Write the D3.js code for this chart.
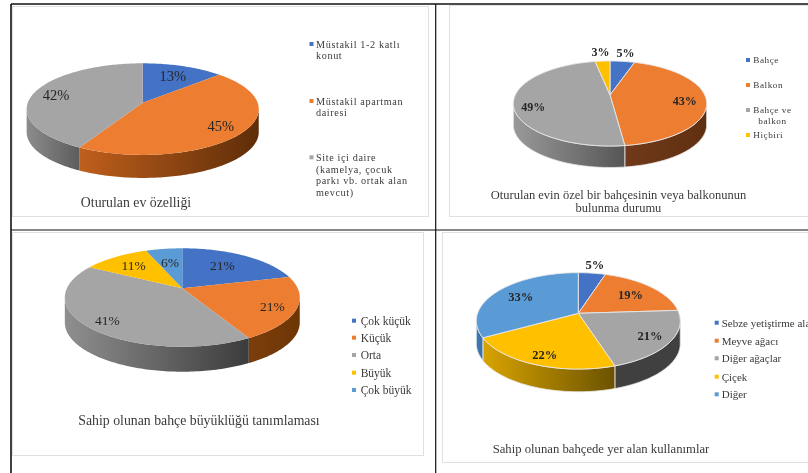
<!DOCTYPE html>
<html>
<head>
<meta charset="utf-8">
<style>
html, body{
  margin: 0;
  padding: 0;
  background-color: white;
  overflow: hidden;
}
svg{
  display: block;
}
text{
  font-family: "Liberation Serif", serif;
  fill: #3a3a3a;
}
.plot{
  filter: blur(0.45px);
}
.pct{
  fill: #262626;
}
.title{
  text-anchor: middle;
}
</style>
</head>
<body>
<script src="https://cdnjs.cloudflare.com/ajax/libs/d3/7.8.5/d3.min.js"></script>
<script>
  var WIDTH = 808;
  var HEIGHT = 473;

  // values
  var houseValues = [13, 45, 42];
  var houseLegend = [["Müstakil 1-2 katlı", "konut"], ["Müstakil apartman", "dairesi"], ["Site içi daire", "(kamelya, çocuk", "parkı vb. ortak alan", "mevcut)"]];

  var balconyValues = [5, 43, 49, 3];
  var balconyLegend = [["Bahçe"], ["Balkon"], ["Bahçe ve", "balkon"], ["Hiçbiri"]];

  var sizeValues = [21, 21, 41, 11, 6];
  var sizeLegend = [["Çok küçük"], ["Küçük"], ["Orta"], ["Büyük"], ["Çok büyük"]];

  var usageValues = [5, 19, 21, 22, 33];
  var usageLegend = [["Sebze yetiştirme alanı"], ["Meyve ağacı"], ["Diğer ağaçlar"], ["Çiçek"], ["Diğer"]];

  var COLORS = ["#4472c4", "#ed7d31", "#a5a5a5", "#ffc000", "#5b9bd5"];

  // the four panels: pie geometry, label placement and legend placement
  var panels = [
    {
      values: houseValues, legendLines: houseLegend,
      title: ["Oturulan ev özelliği"], titleX: 136, titleY: 207, titleSize: 13.8,
      frame: [12, 6, 428, 216],
      cx: 142.7, cy: 102.7, a: 114.9, b: 44.9, k: 0.14, depth: 23, edge: null,
      pctSize: 14.5, pctWeight: "normal",
      labelR: [0.72, 0.8, 0.8], labelDy: [0, 0, 1],
      side: [["#3a5fa6", "#2f4c86"], ["#bf5f1c", "#5e2d08"], ["#8c8c8c", "#5c5c5c"]],
      legendX: 311.5, legendTextX: 316, legendSize: 10.2, legendSpacing: 0.62,
      legendY: [44, 101, 157.3], lineStep: 11.8, indent: 0
    },
    {
      values: balconyValues, legendLines: balconyLegend,
      title: ["Oturulan evin özel bir bahçesinin veya balkonunun", "bulunma durumu"], titleX: 618.5, titleY: 199, titleSize: 12.5,
      frame: [449, 5, 830, 216],
      cx: 610, cy: 95, a: 94.7, b: 40.8, k: 0.2, depth: 21.5, edge: "#e8e8e8",
      pctSize: 12, pctWeight: "bold",
      labelR: [1.32, 0.78, 0.8, 1.35], labelDy: [0, 3, 7, 0],
      side: [["#33578f", "#33578f"], ["#70391a", "#5f3010"], ["#999999", "#565656"], ["#8c6a00", "#8c6a00"]],
      legendX: 748, legendTextX: 753.3, legendSize: 9.2, legendSpacing: 0.55,
      legendY: [60, 85, 110, 135], lineStep: 10.7, indent: 5
    },
    {
      values: sizeValues, legendLines: sizeLegend,
      title: ["Sahip olunan bahçe büyüklüğü tanımlaması"], titleX: 199, titleY: 425, titleSize: 13.8,
      frame: [12, 232, 423, 455],
      cx: 182.3, cy: 288.3, a: 115.4, b: 47.5, k: 0.187, depth: 25, edge: null,
      pctSize: 13.5, pctWeight: "normal",
      labelR: [0.62, 0.8, 0.82, 0.7, 0.63], labelDy: [-2, 2, 1, 0, 0],
      side: [["#2f4c86", "#2f4c86"], ["#7c3d0c", "#6e3605"], ["#8f8f8f", "#3c3c3c"], ["#8c6a00", "#8c6a00"], ["#3a6a96", "#3a6a96"]],
      legendX: 354, legendTextX: 360.7, legendSize: 11.5, legendSpacing: 0,
      legendY: [320.7, 337.7, 355, 372.7, 390], lineStep: 11.5, indent: 0
    },
    {
      values: usageValues, legendLines: usageLegend,
      title: ["Sahip olunan bahçede yer alan kullanımlar"], titleX: 601, titleY: 452.5, titleSize: 12.7,
      frame: [442, 232, 830, 462],
      cx: 578.3, cy: 313.3, a: 100.7, b: 47, k: 0.157, depth: 22.7, edge: "#e8e8e8",
      pctSize: 12.5, pctWeight: "bold",
      labelR: [1.26, 0.7, 0.8, 0.8, 0.7], labelDy: [0, 0, 0, 2, -1],
      side: [["#33578f", "#33578f"], ["#8a4a1a", "#8a4a1a"], ["#404040", "#404040"], ["#d9a400", "#6b5200"], ["#3f7ab5", "#3a70a8"]],
      legendX: 716.7, legendTextX: 721.7, legendSize: 11, legendSpacing: 0,
      legendY: [322.7, 340.7, 358.3, 376.7, 394.3], lineStep: 11, indent: 0
    }
  ];

  var svg = d3.select("body").append("svg")
    .attr("width", WIDTH)
    .attr("height", HEIGHT);

  var defs = svg.append("defs");

  drawFrames();
  panels.forEach(drawPanel);
  drawTableLines();

  function drawFrames(){
    svg.append("g").attr("class", "frames")
      .selectAll("rect")
      .data(panels)
      .enter()
      .append("rect")
        .attr("x", (d) => d.frame[0] + 0.5)
        .attr("y", (d) => d.frame[1] + 0.5)
        .attr("width", (d) => d.frame[2] - d.frame[0])
        .attr("height", (d) => d.frame[3] - d.frame[1])
        .attr("fill", "white")
        .attr("stroke", "#e0e0e0")
        .attr("stroke-width", 1);
  }

  function drawTableLines(){
    var lines = [[11, 4, WIDTH, 4, 1.6], [11, 4, 11, HEIGHT, 1.6], [435.7, 4, 435.7, HEIGHT, 1.2], [11, 230, WIDTH, 230, 1.2]];
    svg.append("g").attr("class", "table-lines")
      .selectAll("line")
      .data(lines)
      .enter()
      .append("line")
        .attr("x1", (d) => d[0])
        .attr("y1", (d) => d[1])
        .attr("x2", (d) => d[2])
        .attr("y2", (d) => d[3])
        .attr("stroke", "#111")
        .attr("stroke-width", (d) => d[4]);
  }

  function drawPanel(p, idx){
    var plot = svg.append("g").attr("class", "plot");

    // tilted disc with a little perspective, far side is squeezed
    var project = function(angle, r){
      var u = r * Math.sin(angle);
      var v = r * Math.cos(angle);
      var w = 1 + p.k * v;
      return [p.cx + p.a * u / w, p.cy - p.b * v / w];
    };

    var arcs = d3.pie().sort(null)(p.values);
    var line = d3.line();

    // side wall, only the part facing the viewer
    var frontStart = Math.acos(-p.k);
    var frontEnd = 2 * Math.PI - frontStart;

    arcs.forEach(function(d, i){
      var a0 = Math.max(d.startAngle, frontStart);
      var a1 = Math.min(d.endAngle, frontEnd);
      if(a1 <= a0) return;

      var angles = d3.range(a0, a1, 0.02).concat([a1]);
      var rim = angles.map((t) => project(t, 1));
      var wall = rim.concat(rim.slice().reverse().map((q) => [q[0], q[1] + p.depth]));

      var gradId = "side-" + idx + "-" + i;
      var xs = d3.extent(rim, (q) => q[0]);
      var grad = defs.append("linearGradient")
        .attr("id", gradId)
        .attr("gradientUnits", "userSpaceOnUse")
        .attr("x1", xs[0]).attr("x2", xs[1])
        .attr("y1", 0).attr("y2", 0);
      grad.append("stop").attr("offset", 0).attr("stop-color", p.side[i][0]);
      grad.append("stop").attr("offset", 1).attr("stop-color", p.side[i][1]);

      plot.append("path")
        .attr("d", line(wall) + "Z")
        .attr("fill", "url(#" + gradId + ")")
        .attr("stroke", p.edge || "none")
        .attr("stroke-width", p.edge ? 0.8 : 0);
    });

    // top face
    plot.selectAll("path.slice")
      .data(arcs)
      .enter()
      .append("path")
        .attr("class", "slice")
        .attr("d", function(d){
          var pts = d3.range(d.startAngle, d.endAngle, 0.02).concat([d.endAngle]).map((t) => project(t, 1));
          return line([[p.cx, p.cy]].concat(pts)) + "Z";
        })
        .attr("fill", (d, i) => COLORS[i])
        .attr("stroke", p.edge || "none")
        .attr("stroke-width", p.edge ? 0.9 : 0);

    // percent labels
    plot.selectAll("text.pct")
      .data(arcs)
      .enter()
      .append("text")
        .attr("class", "pct")
        .attr("x", (d, i) => project((d.startAngle + d.endAngle) / 2, p.labelR[i])[0])
        .attr("y", (d, i) => project((d.startAngle + d.endAngle) / 2, p.labelR[i])[1] + p.labelDy[i])
        .attr("dy", "0.35em")
        .attr("text-anchor", "middle")
        .style("font-size", p.pctSize + "px")
        .style("font-weight", p.pctWeight)
        .text((d) => d.value + "%");

    // legend
    var legend = plot.selectAll("g.legend")
      .data(p.legendLines)
      .enter()
      .append("g")
        .attr("class", "legend")
        .attr("transform", (d, i) => `translate(0,${p.legendY[i]})`);

    legend.append("rect")
      .attr("x", p.legendX - 2)
      .attr("y", -2)
      .attr("width", 4)
      .attr("height", 4)
      .attr("fill", (d, i) => COLORS[i]);

    legend.selectAll("text")
      .data((d) => d)
      .enter()
      .append("text")
        .attr("x", (d, i) => p.legendTextX + (i > 0 ? p.indent : 0))
        .attr("y", (d, i) => i * p.lineStep)
        .attr("dy", "0.35em")
        .style("font-size", p.legendSize + "px")
        .style("letter-spacing", p.legendSpacing + "px")
        .text((d) => d);

    // chart title under the pie
    plot.selectAll("text.title")
      .data(p.title)
      .enter()
      .append("text")
        .attr("class", "title")
        .attr("x", p.titleX)
        .attr("y", (d, i) => p.titleY + i * 13.4)
        .style("font-size", p.titleSize + "px")
        .text((d) => d);
  }
</script>
</body>
</html>
